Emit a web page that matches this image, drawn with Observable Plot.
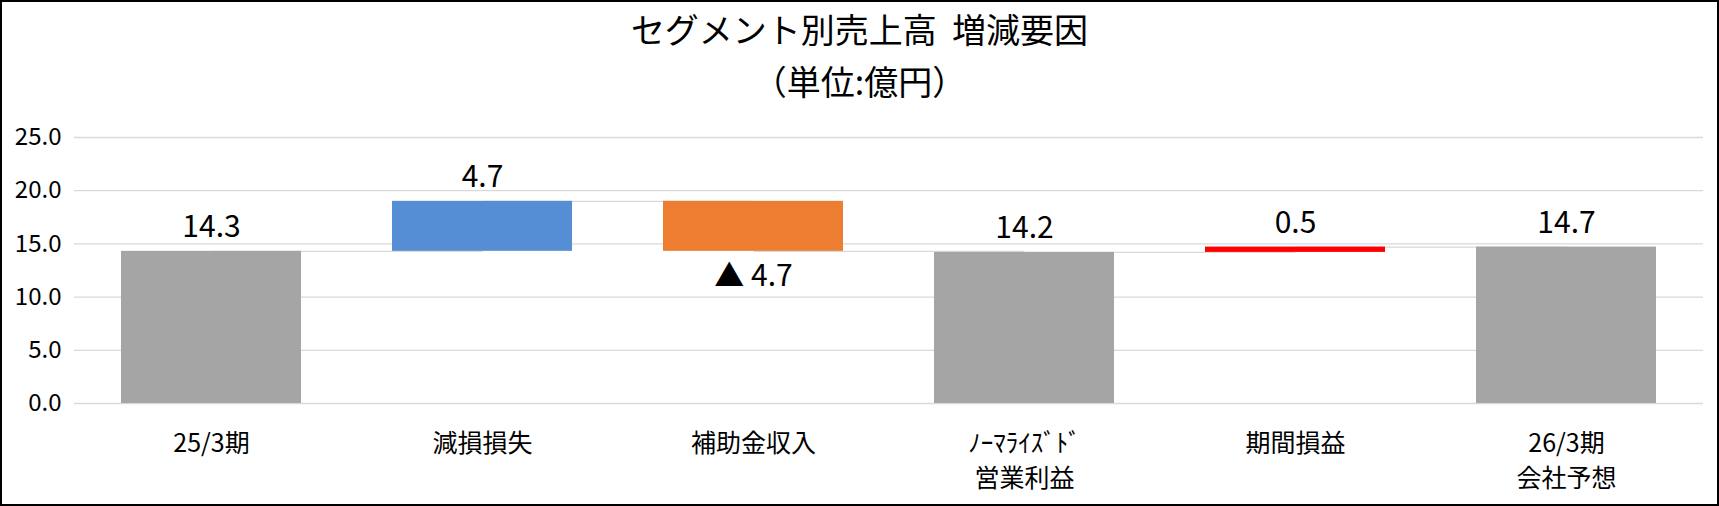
<!DOCTYPE html>
<html>
<head>
<meta charset="utf-8">
<script src="https://cdn.jsdelivr.net/npm/d3@7"></script>
<script src="https://cdn.jsdelivr.net/npm/@observablehq/plot@0.6"></script>
<style>
  html, body { margin: 0; padding: 0; background: #fff; }
  #wrap { position: relative; width: 1719px; height: 506px; background: #fff; overflow: hidden;
          font-family: "Noto Sans CJK JP", "Noto Sans", sans-serif; color: #000; }
  #frame { position: absolute; left: 0; top: 0; width: 1719px; height: 506px; box-sizing: border-box;
           border: 2px solid #000; pointer-events: none; }
  .t { position: absolute; left: 0; width: 1719px; text-align: center; line-height: 1; white-space: pre; }
  #title { top: 12px; font-size: 34px; }
  #sub { top: 64px; font-size: 34px; }
  #chart { position: absolute; left: 0; top: 100px; }
</style>
</head>
<body>
<div id="wrap">
  <div class="t" id="title">セグメント別売上高  増減要因</div>
  <div class="t" id="sub">（単位:億円）</div>
  <div id="chart"></div>
  <div id="frame"></div>
</div>
<script>
const categories = ["25/3期", "減損損失", "補助金収入", "ﾉｰﾏﾗｲｽﾞﾄﾞ\n営業利益", "期間損益", "26/3期\n会社予想"];
const values = [14.3, 4.7, -4.7, 14.2, 0.5, 14.7];
const kinds = ["total", "increase", "decrease", "total", "increase", "total"];
const labels = ["14.3", "4.7", "▲ 4.7", "14.2", "0.5", "14.7"];
const colors = ["#A5A5A5", "#558ED5", "#ED7D31", "#A5A5A5", "#FF0000", "#A5A5A5"];
const yTicks = [0, 5, 10, 15, 20, 25];

let level = 0;
const rows = categories.map((cat, i) => {
  let y1, y2;
  if (kinds[i] === "total") { y1 = 0; y2 = values[i]; }
  else { y1 = level; y2 = level + values[i]; }
  level = y2;
  return {cat, y1, y2, kind: kinds[i], label: labels[i], color: colors[i]};
});
const connectors = rows.slice(0, -1).map((r, i) => ({x1: r.cat, x2: rows[i + 1].cat, y: r.y2}));

const font = "\"Noto Sans CJK JP\", \"Noto Sans\", sans-serif";
const chart = Plot.plot({
  width: 1719,
  height: 406,
  marginLeft: 74,
  marginRight: 16,
  marginTop: 37,
  marginBottom: 103,
  style: {fontFamily: font, color: "#000", background: "transparent", overflow: "visible"},
  x: {domain: categories, paddingInner: 0.337, paddingOuter: 0.1685, label: null},
  y: {domain: [0, 25], label: null},
  color: {type: "identity"},
  marks: [
    Plot.gridY(yTicks, {stroke: "#D9D9D9", strokeOpacity: 1, strokeWidth: 1.3}),
    Plot.link(connectors, {x1: "x1", x2: "x2", y1: "y", y2: "y", stroke: "#D9D9D9", strokeWidth: 1.3}),
    Plot.barY(rows, {x: "cat", y1: "y1", y2: "y2", fill: "color"}),
    Plot.text(rows.filter(d => d.kind !== "decrease"), {x: "cat", y: "y2", text: "label", fontSize: 30, fill: "#000", dy: -24, lineAnchor: "middle"}),
    Plot.text(rows.filter(d => d.kind === "decrease"), {x: "cat", y: "y2", text: "label", fontSize: 30, fill: "#000", dy: 25, lineAnchor: "middle"}),
    Plot.axisY(yTicks, {tickSize: 0, tickPadding: 13, tickFormat: d3.format(".1f"), fontSize: 24, fill: "#000", label: null}),
    Plot.axisX({tickSize: 0, tickPadding: 24, fontSize: 25, lineHeight: 1.4, fill: "#000", label: null})
  ]
});
document.getElementById("chart").appendChild(chart);
</script>
</body>
</html>
